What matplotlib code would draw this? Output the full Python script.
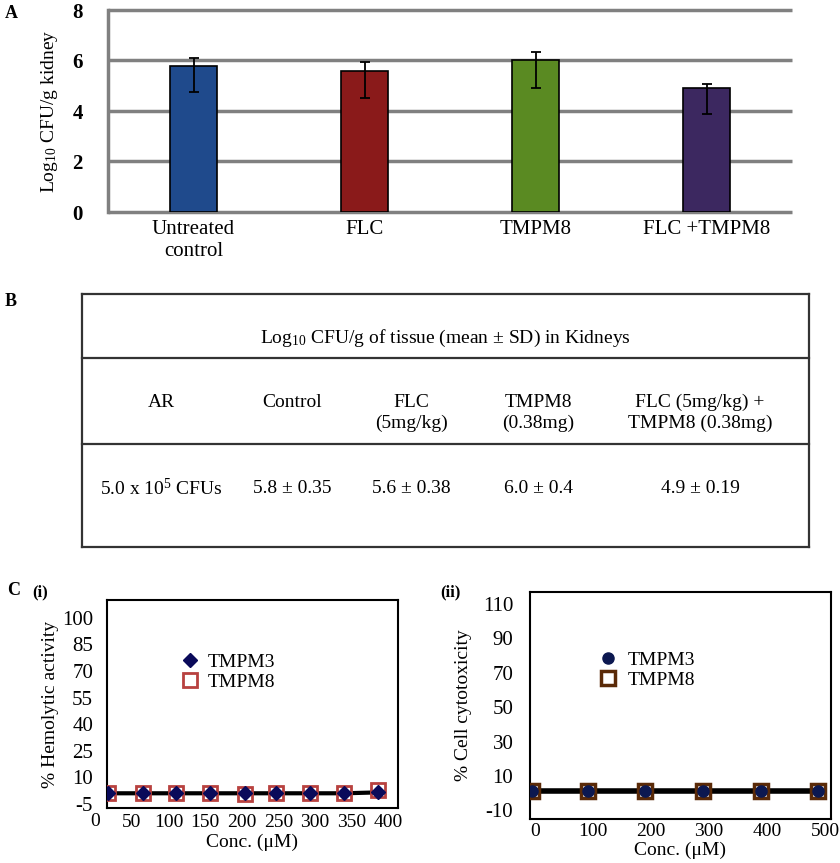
import matplotlib
matplotlib.use("Agg")
import matplotlib.pyplot as plt
import numpy as np

plt.rcParams['font.family'] = ['Liberation Serif', 'DejaVu Serif']
plt.rcParams['mathtext.fontset'] = 'custom'
plt.rcParams['mathtext.rm'] = 'Liberation Serif'
plt.rcParams['mathtext.it'] = 'Liberation Serif:italic'
plt.rcParams['axes.unicode_minus'] = False

# panel A data
groups = ["Untreated\ncontrol", "FLC", "TMPM8", "FLC +TMPM8"]
cfu_mean = [5.8, 5.6, 6.0, 4.9]
err_down = [1.05, 1.07, 1.07, 1.03]
err_up = [0.30, 0.35, 0.35, 0.16]
bar_colors = ["#1f4a8c", "#8a1a1a", "#5a8a22", "#3c2860"]

# panel B table
table_title = r"Log$_{\mathregular{10}}$ CFU/g of tissue (mean ± SD) in Kidneys"
col_heads = ["AR", "Control", "FLC\n(5mg/kg)", "TMPM8\n(0.38mg)",
             "FLC (5mg/kg) +\nTMPM8 (0.38mg)"]
row_vals = [r"5.0 x 10$^{\mathregular{5}}$ CFUs", "5.8 ± 0.35", "5.6 ± 0.38",
            "6.0 ± 0.4", "4.9 ± 0.19"]

# panel C(i) hemolysis
conc_hemo = [17, 65, 110, 156, 204, 247, 293, 340, 386]
hemo_tmpm3 = [1, 1, 1, 1, 1, 1, 1, 1, 1.5]
hemo_tmpm8 = [1, 1, 1, 1, 0.8, 1, 1, 1, 3]
hemo_xlabels = [0, 50, 100, 150, 200, 250, 300, 350, 400]
hemo_yticks = [-5, 10, 25, 40, 55, 70, 85, 100]

# panel C(ii) cytotoxicity
conc_cyto = [-5, 92, 190, 290, 389, 488]
cyto_tmpm3 = [1.5, 1.5, 1.5, 1.5, 1.5, 1.5]
cyto_tmpm8 = [1.5, 1.5, 1.5, 1.5, 1.5, 1.5]
cyto_xticks = [0, 100, 200, 300, 400, 500]
cyto_yticks = [-10, 10, 30, 50, 70, 90, 110]

W, H = 840, 863
fig = plt.figure(figsize=(W / 100, H / 100), dpi=100)

# full-figure axes in pixel coordinates for table and panel letters
bg = fig.add_axes([0, 0, 1, 1])
bg.set_xlim(0, W)
bg.set_ylim(H, 0)
bg.axis('off')

bg.text(5, 14, "A", fontsize=13, fontweight='bold', va='center')
bg.text(5, 301, "B", fontsize=13, fontweight='bold', va='center')
bg.text(7, 590, "C", fontsize=13, fontweight='bold', va='center')
bg.text(32, 592, "(i)", fontsize=12, fontweight='bold', va='center')
bg.text(440, 592, "(ii)", fontsize=12, fontweight='bold', va='center')

# ---- table B ----
tcol = "#333333"
for yy in [294, 358, 444, 547]:
    bg.plot([82, 809], [yy, yy], color=tcol, lw=1.6)
for xx in [82, 809]:
    bg.plot([xx, xx], [294, 547], color=tcol, lw=1.6)
bg.text(445, 338, table_title, fontsize=14, ha='center', va='center')
col_x = [161, 292, 411, 538, 700]
for cx, head, val in zip(col_x, col_heads, row_vals):
    bg.text(cx, 394, head, fontsize=14, ha='center', va='top', linespacing=1.25)
    bg.text(cx, 488, val, fontsize=14, ha='center', va='center')

# ---- panel A ----
axA = fig.add_axes([108 / W, 1 - 212 / H, 684 / W, 202 / H])
x = np.arange(len(groups))
axA.hlines([0, 2, 4, 6, 8], -0.5, 3.5, color='#808080', lw=2.5, zorder=1,
           clip_on=False)
axA.bar(x, cfu_mean, width=0.27, color=bar_colors, edgecolor='black',
        linewidth=1.2, zorder=3)
axA.errorbar(x, cfu_mean, yerr=[err_down, err_up], fmt='none', ecolor='black',
             elinewidth=1.3, capsize=3.5, capthick=1.3, zorder=4)
axA.set_xlim(-0.5, 3.5)
axA.set_ylim(0, 8)
axA.set_yticks([0, 2, 4, 6, 8])
axA.set_xticks(x)
axA.set_xticklabels(groups, fontsize=15)
for lab in axA.get_yticklabels():
    lab.set_fontsize(15)
    lab.set_fontweight('bold')
axA.tick_params(axis='y', length=0, pad=18)
axA.tick_params(axis='x', length=0, pad=6)
for s in ['top', 'right', 'bottom']:
    axA.spines[s].set_visible(False)
axA.spines['left'].set_color('#808080')
axA.spines['left'].set_linewidth(2.5)
axA.set_ylabel(r"Log$_{\mathregular{10}}$ CFU/g kidney", fontsize=14, labelpad=9)

# ---- panel C(i) ----
ax1 = fig.add_axes([107 / W, 1 - 808 / H, 291 / W, 208 / H])
ax1.plot(conc_hemo, hemo_tmpm3, color='black', lw=3, zorder=2)
ax1.plot(conc_hemo, hemo_tmpm3, 'D', color='#0a0a5a', ms=7, zorder=4,
         label='TMPM3')
ax1.plot(conc_hemo, hemo_tmpm8, 's', mfc='none', mec='#b8413f', mew=2,
         ms=10, zorder=3, label='TMPM8')
ax1.set_xlim(16, 413)
ax1.set_ylim(-7.3, 110)
ax1.set_yticks(hemo_yticks)
ax1.set_xticks([v for v in hemo_xlabels if v > 16])
ax1.set_xticklabels([str(v) for v in hemo_xlabels if v > 16])
ax1.text(0, -0.025, "0", transform=ax1.get_xaxis_transform(), fontsize=14,
         ha='center', va='top', clip_on=False)
ax1.tick_params(length=0, labelsize=15)
ax1.tick_params(axis='x', labelsize=14, pad=4)
ax1.tick_params(axis='y', pad=10)
for s in ax1.spines.values():
    s.set_linewidth(1.5)
ax1.set_ylabel("% Hemolytic activity", fontsize=14, labelpad=2)
ax1.set_xlabel("Conc. (μM)", fontsize=14, labelpad=2)
ax1.legend(loc='upper left', bbox_to_anchor=(0.22, 0.79), frameon=False,
           fontsize=14, handlelength=1.0, handletextpad=0.4, borderpad=0,
           labelspacing=0.1)

# ---- panel C(ii) ----
ax2 = fig.add_axes([530 / W, 1 - 819 / H, 301 / W, 227 / H])
ax2.plot(conc_cyto, cyto_tmpm3, color='black', lw=4, zorder=2)
ax2.plot(conc_cyto, cyto_tmpm3, 'o', color='#0c1850', ms=8, zorder=4,
         label='TMPM3')
ax2.plot(conc_cyto, cyto_tmpm8, 's', mfc='none', mec='#5a2a08', mew=2.5,
         ms=10, zorder=3, label='TMPM8')
ax2.set_xlim(-8, 510)
ax2.set_ylim(-15, 117)
ax2.set_yticks(cyto_yticks)
ax2.set_xticks(cyto_xticks)
ax2.tick_params(length=0, labelsize=15)
ax2.tick_params(axis='x', labelsize=14, pad=3)
ax2.tick_params(axis='y', pad=12)
for s in ax2.spines.values():
    s.set_linewidth(1.5)
ax2.set_ylabel("% Cell cytotoxicity", fontsize=14, labelpad=8)
ax2.set_xlabel("Conc. (μM)", fontsize=14, labelpad=1)
ax2.legend(loc='upper left', bbox_to_anchor=(0.195, 0.78), frameon=False,
           fontsize=14, handlelength=1.0, handletextpad=0.5, borderpad=0,
           labelspacing=0.1)

fig.savefig("out.png", dpi=100)
